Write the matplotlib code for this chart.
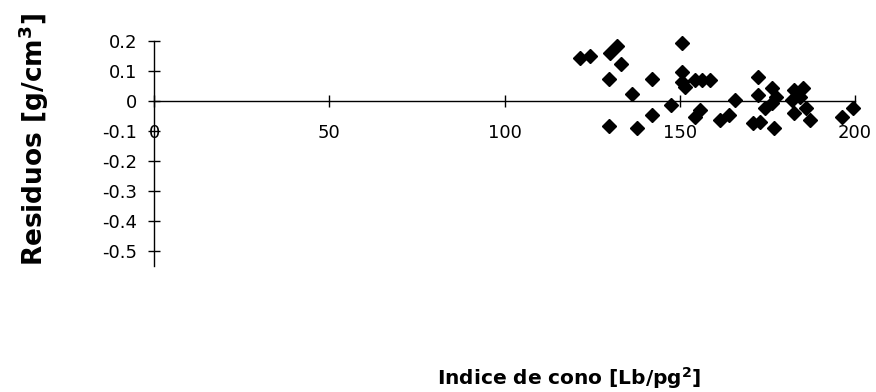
import matplotlib
matplotlib.use("Agg")
import matplotlib.pyplot as plt

plt.rcParams['font.family'] = ['DejaVu Sans']
plt.rcParams['mathtext.fontset'] = 'dejavusans'

indice_cono = [121.5, 124.4, 130.1, 132.1, 133.1, 129.9, 129.9, 136.5, 137.9, 142.2,
               142.2, 147.6, 150.5, 150.5, 150.5, 151.5, 154.3, 156.3, 158.6, 155.8,
               154.3, 161.5, 164.0, 165.8, 172.4, 172.4, 171.0, 173.0, 176.9, 174.3,
               176.2, 176.2, 177.6, 182.5, 185.3, 181.9, 184.3, 182.5, 185.9, 187.2,
               199.5, 196.2]
residuos = [0.141, 0.149, 0.160, 0.182, 0.121, 0.071, -0.083, 0.021, -0.092, 0.071,
            -0.048, -0.014, 0.193, 0.097, 0.063, 0.045, 0.069, 0.069, 0.069, -0.031,
            -0.053, -0.064, -0.048, 0.002, 0.080, 0.019, -0.075, -0.072, -0.090, -0.025,
            -0.009, 0.041, 0.013, 0.036, 0.041, 0.002, 0.013, -0.042, -0.025, -0.064,
            -0.025, -0.055]
x_ticks = [0, 50, 100, 150, 200]
y_ticks = [0.2, 0.1, 0, -0.1, -0.2, -0.3, -0.4, -0.5]
y_tick_labels = ['0.2', '0.1', '0', '-0.1', '-0.2', '-0.3', '-0.4', '-0.5']

fig = plt.figure(figsize=(8.76, 3.92), dpi=100)
ax = fig.add_axes([154/876, 1-265.7/392, (855-154)/876, (265.7-40.7)/392])

ax.plot(indice_cono, residuos, linestyle='none', marker='D', markersize=6.8,
        color='black', clip_on=False)

ax.set_xlim(0, 200)
ax.set_ylim(-0.55, 0.2)
for s in ['top', 'right']:
    ax.spines[s].set_visible(False)
ax.spines['bottom'].set_position(('data', 0))
ax.spines['left'].set_linewidth(1.0)
ax.spines['bottom'].set_linewidth(1.0)

ax.set_xticks(x_ticks)
ax.set_xticklabels([str(v) for v in x_ticks])
ax.set_yticks(y_ticks)
ax.set_yticklabels(y_tick_labels)
ax.tick_params(axis='both', direction='inout', length=8, width=1.0, labelsize=13)
ax.tick_params(axis='x', pad=13)
ax.tick_params(axis='y', pad=8)

fig.text(34/876, 1-140/392, 'Residuos [g/cm$^\\mathbf{3}$]', rotation=90,
         ha='center', va='center', fontsize=19, fontweight='bold')
fig.text(569/876, 1-385/392, 'Indice de cono [Lb/pg$^\\mathbf{2}$]',
         ha='center', va='baseline', fontsize=14.5, fontweight='bold')

fig.savefig('out.png', dpi=100)
